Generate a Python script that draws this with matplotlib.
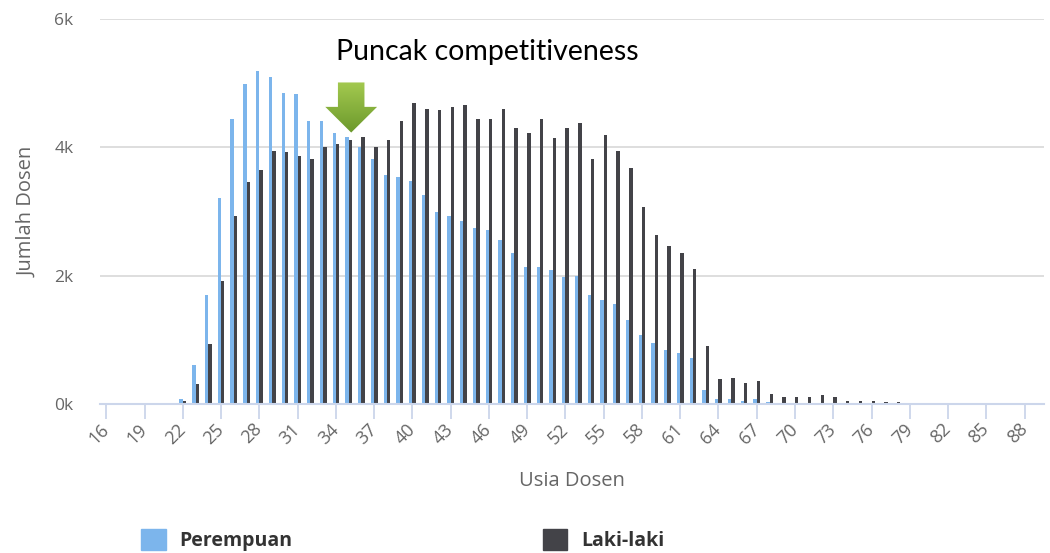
import numpy as np
import matplotlib
matplotlib.use("Agg")
import matplotlib.pyplot as plt
from matplotlib.patches import Polygon, Patch
from matplotlib.colors import LinearSegmentedColormap
from matplotlib.transforms import ScaledTranslation

# Data
ages = list(range(16, 90))
perempuan = [0, 0, 0, 0, 0, 0,                                   # 16-21
             83, 612, 1701, 3211, 4440, 4990, 5183, 5099, 4850, 4825,   # 22-31
             4409, 4409, 4222, 4165, 4005, 3813, 3564, 3538, 3480, 3258,  # 32-41
             2988, 2930, 2853, 2744, 2713, 2552, 2355, 2137, 2137, 2086,  # 42-51
             1977, 1997, 1701, 1619, 1561, 1317, 1074, 959, 850, 798,     # 52-61
             716, 223, 83, 83, 57, 83, 31, 10, 8, 8,                      # 62-71
             8, 6, 5, 5, 4, 3, 3, 0, 0, 0,                                # 72-81
             0, 0, 0, 0, 0, 0, 0, 0]                                      # 82-89
laki_laki = [0, 0, 0, 0, 0, 0,
             57, 311, 939, 1924, 2936, 3455, 3647, 3948, 3922, 3865,
             3813, 4005, 4056, 4114, 4165, 4005, 4114, 4409, 4685, 4600,
             4575, 4632, 4658, 4440, 4440, 4600, 4300, 4222, 4440, 4140,
             4300, 4383, 3813, 4191, 3948, 3673, 3071, 2635, 2469, 2355,
             2111, 907, 389, 415, 332, 358, 166, 114, 114, 114,
             140, 114, 57, 57, 57, 31, 31, 0, 0, 0,
             0, 0, 0, 0, 0, 0, 0, 0]
x_ticks = list(range(16, 89, 3))
y_ticks = [0, 2000, 4000, 6000]
y_labels = ["0k", "2k", "4k", "6k"]

# annotation (arrow) position in data units
arrow_x = 35.2
arrow_tip = 4230
arrow_neck = 4630
arrow_top = 5010

c_blue = "#7cb5ec"
c_dark = "#434348"
grey = "#666666"

fig = plt.figure(figsize=(10.5, 5.53), dpi=100)
ax = fig.add_axes([0.0952, 0.2689, 0.8988, 0.697])

x = np.array(ages)
w = 0.265
ax.bar(x - w / 2, perempuan, width=w, color=c_blue, label="Perempuan", zorder=2)
ax.bar(x + w / 2, laki_laki, width=w, color=c_dark, label="Laki-laki", zorder=2)

ax.set_xlim(15.5, 89.5)
ax.set_ylim(0, 6000)
ax.set_xticks(x_ticks)
ax.set_xticklabels([str(t) for t in x_ticks], rotation=45, ha="right",
                   va="center", rotation_mode="anchor",
                   fontsize=13, color=grey, family="Open Sans")
shift = ScaledTranslation(4 / 100, 0, fig.dpi_scale_trans)
for lab in ax.get_xticklabels():
    lab.set_transform(lab.get_transform() + shift)
ax.set_yticks(y_ticks)
ax.set_yticklabels(y_labels, fontsize=12.5, color=grey, family="Open Sans")

ax.tick_params(axis="x", length=11, width=1.3, color="#ccd6eb", pad=5)
ax.tick_params(axis="y", length=0, pad=19)
ax.yaxis.grid(True, color="#dedede", lw=1.4)
ax.set_axisbelow(True)
for s in ["top", "right", "left"]:
    ax.spines[s].set_visible(False)
ax.spines["bottom"].set_color("#ccd6eb")
ax.spines["bottom"].set_linewidth(1.5)
ax.spines["bottom"].set_zorder(3)

ax.set_ylabel("Jumlah Dosen", fontsize=14.5, color=grey, family="Open Sans", labelpad=12)
ax.set_xlabel("Usia Dosen", fontsize=14.5, color=grey, family="Open Sans", labelpad=17)

# green arrow with a vertical gradient
sw = 1.04   # half shaft width (age units)
hw = 2.03   # half head width
pts = [(arrow_x - sw, arrow_top), (arrow_x + sw, arrow_top),
       (arrow_x + sw, arrow_neck), (arrow_x + hw, arrow_neck),
       (arrow_x, arrow_tip), (arrow_x - hw, arrow_neck),
       (arrow_x - sw, arrow_neck)]
poly = Polygon(pts, closed=True, facecolor="none", edgecolor="none", zorder=4)
ax.add_patch(poly)
grad = np.linspace(0, 1, 100).reshape(-1, 1)
cmap = LinearSegmentedColormap.from_list("g", ["#a3c94f", "#6c992c"])
im = ax.imshow(grad, cmap=cmap, aspect="auto", zorder=4,
               extent=[arrow_x - hw, arrow_x + hw, arrow_tip, arrow_top],
               origin="upper")
im.set_clip_path(poly)
ax.set_xlim(15.5, 89.5)
ax.set_ylim(0, 6000)

ax.text(arrow_x + 10.7, 5490, "Puncak competitiveness", fontsize=20.5,
        family="Lato", color="black", ha="center", va="center")

handles = [Patch(color=c_blue), Patch(color=c_dark)]
leg = fig.legend(handles, ["Perempuan", "Laki-laki"], loc="lower left",
                 bbox_to_anchor=(0.118, -0.028), ncol=2, frameon=False,
                 handlelength=1.25, handleheight=1.25, handletextpad=0.7,
                 columnspacing=12.9,
                 prop={"family": "Open Sans", "weight": "bold", "size": 14})
for t in leg.get_texts():
    t.set_color("#333333")

plt.savefig("out.png", dpi=100)
